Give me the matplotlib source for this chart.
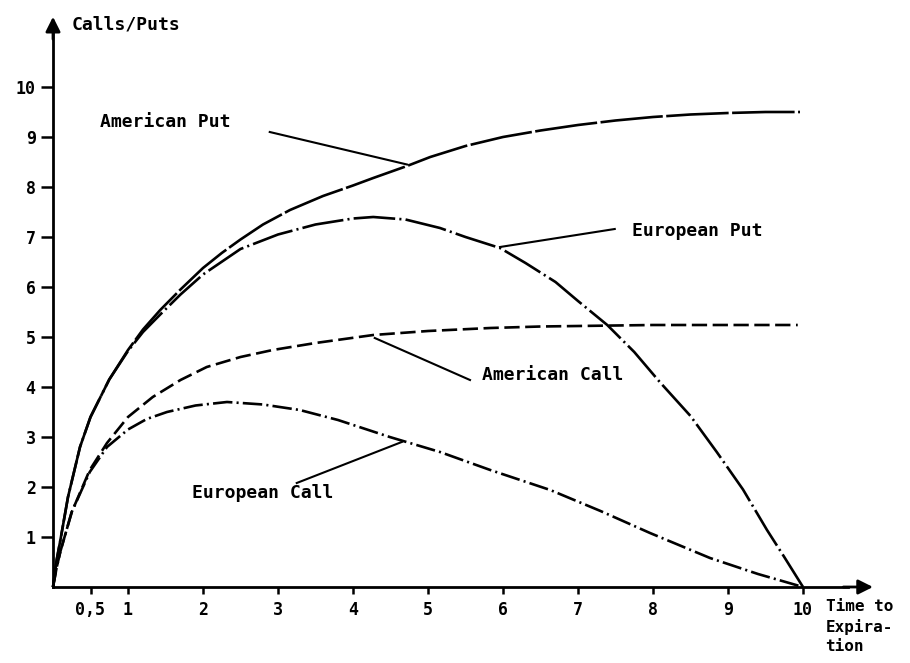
import numpy as np
import matplotlib.pyplot as plt

plt.rcParams['lines.scale_dashes'] = False

# curves (time to expiration, value)
am_put_x = [0, 0.05, 0.1, 0.2, 0.36, 0.5, 0.75, 1.0, 1.2, 1.43, 1.7, 2.0, 2.25, 2.5, 2.8, 3.16, 3.6,
            4.0, 4.27, 4.72, 5.03, 5.5, 6.0, 6.5, 7.0, 7.5, 8.0, 8.5, 9.0, 9.5, 9.96]
am_put_y = [0, 0.55, 0.95, 1.8, 2.8, 3.4, 4.15, 4.74, 5.15, 5.54, 5.95, 6.38, 6.68, 6.95, 7.25,
            7.54, 7.82, 8.03, 8.18, 8.42, 8.6, 8.82, 9.0, 9.13, 9.24, 9.33, 9.4, 9.45, 9.48, 9.5, 9.5]

eu_put_x = [0, 0.05, 0.1, 0.2, 0.36, 0.5, 0.75, 1.0, 1.2, 1.43, 1.7, 2.0, 2.5, 3.0, 3.5, 4.0, 4.27,
            4.7, 5.16, 5.5, 5.96, 6.3, 6.7, 7.0, 7.39, 7.75, 8.09, 8.5, 8.85, 9.2, 9.52, 9.75, 10.0]
eu_put_y = [0, 0.55, 0.95, 1.8, 2.8, 3.4, 4.15, 4.72, 5.1, 5.45, 5.85, 6.25, 6.76, 7.05, 7.25,
            7.37, 7.4, 7.35, 7.18, 7.0, 6.78, 6.48, 6.1, 5.72, 5.24, 4.7, 4.1, 3.42, 2.7, 1.95, 1.14,
            0.6, 0.0]

am_call_x = [0, 0.05, 0.1, 0.25, 0.49, 0.72, 1.0, 1.33, 1.7, 2.05, 2.5, 2.93, 3.5, 4.27, 5.0, 5.83,
             6.5, 7.0, 8.0, 9.0, 9.93]
am_call_y = [0, 0.4, 0.72, 1.5, 2.34, 2.88, 3.4, 3.8, 4.14, 4.4, 4.6, 4.74, 4.88, 5.04, 5.12, 5.18,
             5.21, 5.22, 5.24, 5.24, 5.24]

eu_call_x = [0, 0.05, 0.1, 0.25, 0.49, 0.72, 1.0, 1.25, 1.52, 1.9, 2.32, 2.8, 3.29, 3.8, 4.49, 5.16,
             5.83, 6.63, 7.3, 7.96, 8.76, 9.4, 10.0]
eu_call_y = [0, 0.4, 0.72, 1.5, 2.3, 2.8, 3.15, 3.36, 3.5, 3.63, 3.7, 3.65, 3.54, 3.34, 3.0, 2.7,
             2.34, 1.94, 1.52, 1.08, 0.58, 0.26, 0.0]

x_ticks = [0.5, 1, 2, 3, 4, 5, 6, 7, 8, 9, 10]
x_tick_labels = ['0,5', '1', '2', '3', '4', '5', '6', '7', '8', '9', '10']
y_ticks = [1, 2, 3, 4, 5, 6, 7, 8, 9, 10]

font = dict(family='DejaVu Sans Mono', fontweight='bold')

fig = plt.figure(figsize=(9.1, 6.63), dpi=100)
ax = fig.add_axes([0, 0, 1, 1])
ax.set_xlim(-53 / 75, (910 - 53) / 75)
ax.set_ylim((587 - 663) / 50, 587 / 50)

lw = 1.9
ax.plot(am_put_x, am_put_y, color='black', lw=lw, dashes=(45, 2.5))
ax.plot(eu_put_x, eu_put_y, color='black', lw=lw, dashes=(30, 3, 1.5, 3))
ax.plot(am_call_x, am_call_y, color='black', lw=lw, dashes=(11, 4))
ax.plot(eu_call_x, eu_call_y, color='black', lw=lw, dashes=(14, 3, 1.5, 3))

# axes with arrow heads
for s in ['top', 'right']:
    ax.spines[s].set_visible(False)
ax.spines['left'].set_position(('data', 0))
ax.spines['bottom'].set_position(('data', 0))
ax.spines['left'].set_bounds(0, 11.1)
ax.spines['bottom'].set_bounds(0, 10.6)
ax.spines['left'].set_linewidth(2)
ax.spines['bottom'].set_linewidth(2)
ax.annotate('', xy=(0, 11.46), xytext=(0, 10.9),
            arrowprops=dict(arrowstyle='-|>', color='black', lw=2, mutation_scale=22))
ax.annotate('', xy=(10.97, 0), xytext=(10.5, 0),
            arrowprops=dict(arrowstyle='-|>', color='black', lw=2, mutation_scale=22))

ax.set_xticks(x_ticks)
ax.set_xticklabels(x_tick_labels, **font, fontsize=12)
ax.set_yticks(y_ticks)
ax.set_yticklabels([str(v) for v in y_ticks], **font, fontsize=12)
ax.tick_params(axis='x', direction='out', length=5, width=1.8, pad=5)
ax.tick_params(axis='y', direction='out', length=8.5, width=1.8, pad=4)

ax.text(0.25, 11.25, 'Calls/Puts', ha='left', va='center', fontsize=13, **font)
ax.text(10.3, -0.24, 'Time to\nExpira-\ntion', ha='left', va='top',
        fontsize=11.5, linespacing=1.35, **font)

# curve labels with leader lines
ax.text(0.63, 9.3, 'American Put', ha='left', va='center', fontsize=13, **font)
ax.plot([2.89, 4.72], [9.1, 8.45], color='black', lw=1.5)

ax.text(7.72, 7.12, 'European Put', ha='left', va='center', fontsize=13, **font)
ax.plot([7.49, 5.96], [7.16, 6.8], color='black', lw=1.5)

ax.text(5.72, 4.24, 'American Call', ha='left', va='center', fontsize=13, **font)
ax.plot([4.29, 5.56], [4.98, 4.14], color='black', lw=1.5)

ax.text(1.85, 1.88, 'European Call', ha='left', va='center', fontsize=13, **font)
ax.plot([3.25, 4.65], [2.08, 2.9], color='black', lw=1.5)

fig.savefig('out.png', dpi=100)
